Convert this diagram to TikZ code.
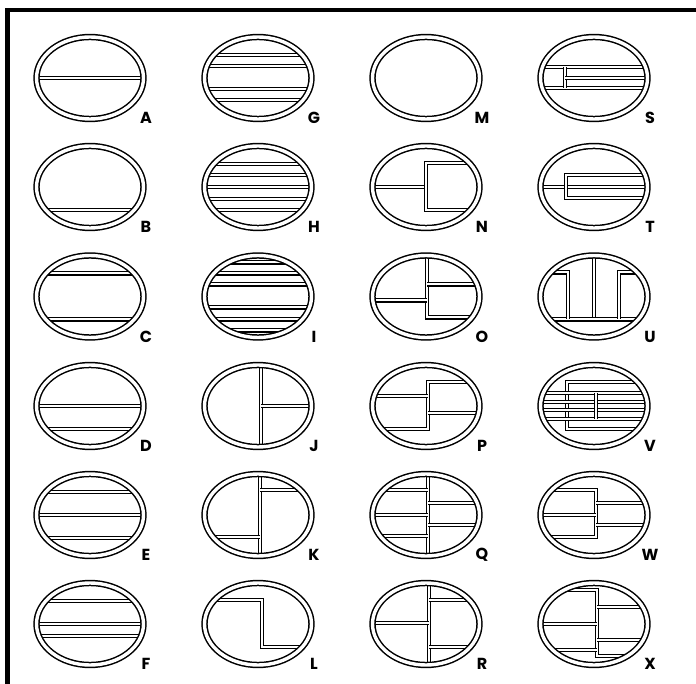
\documentclass[tikz,border=0pt]{standalone}
\usepackage{fontspec}
\newfontfamily\lblfont{Poppins}
\usepackage{tikz}
\tikzset{
  ring/.style={double, double distance=3.4pt, line width=1.5pt},
  wall/.style={double, double distance=2pt, line width=1.1pt, line join=miter},
  lbl/.style={font=\lblfont\bfseries\fontsize{16}{16}\selectfont, inner sep=0pt}
}
% one oval plan: centre x, centre y, letter, inner walls
\newcommand{\plancell}[4]{%
  \begin{scope}[shift={(#1,#2)}]
    \begin{scope}
      \clip (0,0) ellipse [x radius=53.5, y radius=41];
      #4
    \end{scope}
    \draw[ring] (0,0) ellipse [x radius=53.5, y radius=41];
    \node[lbl] (lab#3) at (56,40) {#3};
  \end{scope}}

\begin{document}
\begin{tikzpicture}[x=1pt, y=-1pt]
\useasboundingbox (0,0) rectangle (696,684);
\fill[white] (0,0) rectangle (696,684);
\draw[line width=4.5pt] (7.5,684) -- (7.5,10) -- (696,10);

% first column
\plancell{90}{78}{A}{\draw[wall] (-60,0) -- (60,0);}
\plancell{90}{187}{B}{\draw[wall] (-60,23) -- (60,23);}
\plancell{90}{296.5}{C}{\foreach \y in {-23,23} \draw[wall] (-60,\y) -- (60,\y);}
\plancell{90}{406}{D}{\foreach \y in {0,23} \draw[wall] (-60,\y) -- (60,\y);}
\plancell{90}{515}{E}{\foreach \y in {-23,0,23} \draw[wall] (-60,\y) -- (60,\y);}
\plancell{90}{624}{F}{\foreach \y in {-23,0,12} \draw[wall] (-60,\y) -- (60,\y);}

% second column
\plancell{258}{78}{G}{\foreach \y in {-23,-12,11,22} \draw[wall] (-60,\y) -- (60,\y);}
\plancell{258}{187}{H}{\foreach \y in {-23,-12,0,12,23} \draw[wall] (-60,\y) -- (60,\y);}
\plancell{258}{296.5}{I}{\foreach \y in {-34,-23,-12,11,23,34} \draw[wall] (-60,\y) -- (60,\y);}
\plancell{258}{406}{J}{
  \draw[wall] (3,-60) -- (3,60);
  \draw[wall] (3,0) -- (60,0);}
\plancell{258}{515}{K}{
  \draw[wall] (2,-60) -- (2,60);
  \draw[wall] (2,-25) -- (60,-25);
  \draw[wall] (-60,22) -- (2,22);}
\plancell{258}{624}{L}{\draw[wall] (-60,-24) -- (4,-24) -- (4,23) -- (60,23);}

% third column
\plancell{426}{78}{M}{}
\plancell{426}{187}{N}{
  \draw[wall] (-60,0) -- (0,0);
  \draw[wall] (60,-24) -- (0,-24) -- (0,23) -- (60,23);}
\plancell{426}{296.5}{O}{
  \draw[wall] (1,-60) -- (1,21) -- (60,21);
  \draw[wall] (1,-12) -- (60,-12);
  \draw[wall] (-60,4) -- (1,4);}
\plancell{426}{406}{P}{
  \draw[wall] (60,-24) -- (2,-24) -- (2,23) -- (-60,23);
  \draw[wall] (-60,-10) -- (2,-10);
  \draw[wall] (2,7) -- (60,7);}
\plancell{426}{515}{Q}{
  \draw[wall] (2,-60) -- (2,60);
  \foreach \y in {-25,0,21} \draw[wall] (-60,\y) -- (2,\y);
  \foreach \y in {-12,10} \draw[wall] (2,\y) -- (60,\y);}
\plancell{426}{624}{R}{
  \draw[wall] (3,-60) -- (3,60);
  \foreach \y in {-24,23} \draw[wall] (3,\y) -- (60,\y);
  \draw[wall] (-60,-1) -- (3,-1);}

% fourth column
\plancell{594}{78}{S}{
  \foreach \y in {-11,10} \draw[wall] (-60,\y) -- (60,\y);
  \draw[wall] (-29,-11) -- (-29,10);
  \draw[wall] (-29,0) -- (60,0);}
\plancell{594}{187}{T}{
  \draw[wall] (-60,0) -- (60,0);
  \draw[wall] (60,-12) -- (-28,-12) -- (-28,11) -- (60,11);}
\plancell{594}{296.5}{U}{
  \draw[wall] (0,-60) -- (0,23);
  \draw[wall] (-60,23) -- (60,23);
  \draw[wall] (-60,-24) -- (-26,-24) -- (-26,23);
  \draw[wall] (60,-24) -- (25,-24) -- (25,23);}
\plancell{594}{406}{V}{
  \draw[wall] (60,-24) -- (-27,-24) -- (-27,23) -- (60,23);
  \foreach \y in {-13,-4,4,13} \draw[wall] (-60,\y) -- (60,\y);
  \draw[wall] (2,-13) -- (2,13);}
\plancell{594}{515}{W}{
  \draw[wall] (-60,-25) -- (2,-25) -- (2,22) -- (-60,22);
  \draw[wall] (-60,0) -- (2,0);
  \foreach \y in {-12,10} \draw[wall] (2,\y) -- (60,\y);}
\plancell{594}{624}{X}{
  \draw[wall] (-60,-34) -- (3,-34) -- (3,32) -- (60,32);
  \foreach \y in {-17,16} \draw[wall] (3,\y) -- (60,\y);
  \foreach \y in {0,26} \draw[wall] (-60,\y) -- (3,\y);}
\end{tikzpicture}
\end{document}
